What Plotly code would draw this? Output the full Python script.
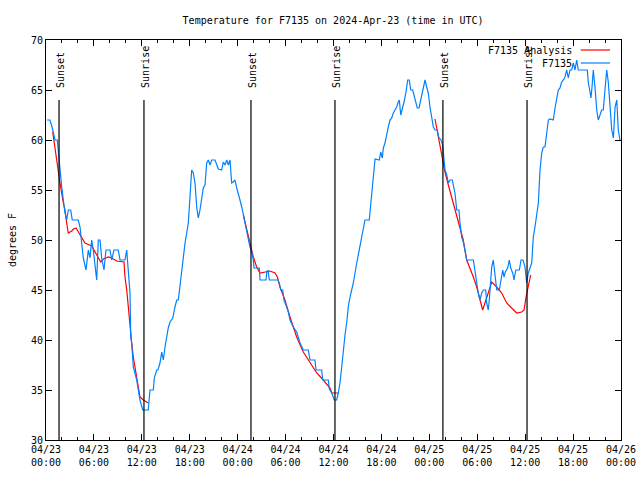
import pandas as pd
import plotly.graph_objects as go

BASE = pd.Timestamp("2024-04-23 00:00")

# Observed F7135 temperature (hours since 2024-04-23 00:00 UTC, degrees F)
obs_hours = [0.13, 0.50, 0.79, 1.13, 1.41, 1.57, 1.75, 1.97, 2.17, 2.38, 2.59, 2.79, 3.09, 3.29, 4.04, 4.26, 4.47, 4.67,
             5.01, 5.30, 5.51, 5.72, 5.92, 6.14, 6.35, 6.55, 6.76, 6.97, 7.26, 7.51, 8.01, 8.23, 8.51, 9.05, 9.27, 9.89,
             10.11, 10.18, 10.31, 10.52, 10.61, 10.73, 10.93, 11.36, 11.56, 11.77, 12.11, 12.81, 13.02, 13.44, 13.56,
             13.86, 14.02, 14.27, 14.49, 14.69, 14.90, 15.11, 15.31, 15.53, 15.87, 16.15, 16.37, 16.57, 16.78, 16.99,
             17.19, 17.41, 17.62, 17.82, 18.03, 18.24, 18.44, 18.66, 18.87, 19.07, 19.28, 19.50, 19.70, 19.91, 20.12,
             20.32, 20.54, 20.75, 21.16, 21.58, 22.00, 22.20, 22.41, 22.63, 22.83, 23.04, 23.25, 23.45, 23.67, 23.88,
             24.08, 24.29, 24.51, 24.71, 24.92, 25.13, 25.33, 25.54, 25.76, 25.96, 26.05, 26.71, 26.80, 27.55, 27.64,
             27.80, 27.96, 29.05, 29.21, 29.39, 29.64, 29.80, 30.14, 30.34, 30.55, 30.97, 31.39, 31.59, 31.81, 32.22,
             32.85, 33.06, 33.68, 33.81, 34.52, 34.65, 35.35, 35.48, 35.78, 36.10, 36.40, 36.60, 36.81, 37.03, 37.23,
             37.44, 37.65, 37.85, 38.07, 38.48, 38.91, 39.23, 39.53, 39.73, 39.94, 40.48, 40.66, 40.78, 40.91, 41.07,
             41.20, 41.74, 41.91, 42.11, 42.24, 42.45, 42.66, 42.86, 43.08, 43.29, 43.49, 43.70, 43.91, 44.11, 44.24,
             44.42, 44.67, 44.83, 45.08, 45.29, 45.49, 45.67, 45.92, 46.08, 46.29, 46.49, 46.71, 46.83, 47.05, 47.25,
             47.46, 47.67, 47.87, 48.08, 48.30, 48.50, 48.71, 49.00, 49.17, 49.46, 49.67, 49.75, 49.96, 50.18, 50.38,
             50.59, 50.88, 51.00, 51.21, 51.43, 51.71, 51.84, 52.05, 52.25, 52.47, 52.68, 53.51, 53.72, 53.93, 54.13,
             54.34, 54.56, 54.76, 55.06, 55.18, 55.38, 55.51, 55.68, 55.81, 56.01, 56.22, 56.44, 56.76, 56.94, 57.19,
             57.35, 57.51, 57.81, 58.01, 58.19, 58.44, 58.60, 58.82, 59.27, 59.48, 59.73, 59.98, 60.19, 60.39, 60.82,
             61.02, 61.23, 61.44, 61.65, 61.86, 62.07, 62.27, 62.48, 62.70, 62.90, 63.11, 63.52, 63.74, 63.95, 64.15,
             64.36, 64.57, 64.78, 64.99, 65.20, 65.40, 65.61, 65.83, 66.03, 66.24, 66.45, 66.65, 67.78, 67.90, 68.12,
             68.24, 68.37, 68.53, 68.74, 68.96, 69.16, 69.37, 69.58, 69.78, 69.99, 70.21, 70.41, 70.62, 70.84, 71.05,
             71.26, 71.47, 71.66, 71.87]
obs_temp = [62, 62, 61.2, 60, 60, 58.5, 56.7, 55.3, 54, 52.7, 52, 53, 53, 52, 52, 51.3, 49.7, 48.2,
            47, 49, 48.2, 50, 49, 47.3, 46, 50, 50, 48.2, 47, 49, 49, 48, 49, 49, 48, 48,
            49, 48.2, 46.7, 44.7, 40.3, 39.7, 37.3, 36, 35, 34, 33, 33, 35, 35, 36.2,
            37, 37, 37.7, 38.8, 38, 39.3, 40.3, 41.2, 41.8, 42.2, 43.3, 44, 44, 45.5, 46.7,
            48.3, 49.7, 50.7, 51.7, 54.3, 57, 56.7, 55.7, 53.3, 52.2, 53, 54.3, 55.2, 55.5, 57.7,
            58, 57.5, 58, 58, 57.1, 57, 57.8, 57.5, 58, 57.5, 58, 55.7, 55.8, 56, 55.2,
            54.7, 54, 53.3, 52.5, 51.8, 51, 50.2, 49.3, 48.8, 48, 47.2, 47.2, 46, 46, 46.8,
            47, 46, 46, 45.7, 45, 45, 44, 43.3, 42.8, 42, 41.3, 40.8, 40.2, 39.7, 39,
            39, 38, 38, 37, 37, 36, 36, 35.1, 34.7, 34, 34, 34.7, 35.7, 37.3, 39,
            40.5, 41.7, 43.3, 44.3, 45.7, 47.7, 49, 50.3, 51.3, 52, 52, 53.7, 54.7, 55.7, 57.7,
            58.1, 58, 58.8, 58.2, 59.2, 59.7, 60.7, 61.3, 62, 62.2, 62.7, 63, 63.3, 63.8, 64,
            62.5, 63.2, 63.8, 64.8, 66, 66, 65, 65, 64.5, 64, 63.2, 63.2, 63.7, 64.5, 65.2,
            66, 65.3, 64.7, 63.3, 62, 61.3, 61, 61, 60.3, 60, 59.5, 58.7, 57, 56.5, 55.7,
            56, 56, 55.5, 54.7, 53, 53, 51.7, 50.3, 49.8, 48.7, 48, 48, 46.7, 45.7, 44.7,
            44, 44.7, 45, 45, 43.7, 43, 44, 45.7, 47.3, 48, 46.7, 45, 45, 45.8, 47,
            46.3, 46.8, 47.2, 48, 47.2, 46.7, 46, 47, 47, 48, 48, 47.3, 45.7, 46.7, 47.7,
            50.3, 51.3, 52.3, 53.7, 57, 58.7, 59.3, 59.3, 60.7, 62, 62.1, 62, 63.2, 64, 65,
            65.2, 65.8, 66, 66.3, 67, 66.2, 67, 67, 67.7, 67, 68, 67, 67, 65.8, 64.8,
            64.2, 65.3, 67, 65.3, 63, 62, 62.5, 63, 63, 64.8, 67, 65.8, 63, 61, 60.2,
            63.3, 64, 61, 60]

# Analysis series (three night-time segments, None = gap)
ana_hours = [0.84, 1.06, 1.34, 1.75, 2.17, 2.38, 2.59, 2.79, 3.22, 3.44, 3.76, 4.04, 4.47, 4.88, 5.72, 6.14,
             6.55, 6.85, 7.18, 7.80, 8.23, 8.85, 9.77, 9.89, 10.11, 10.31, 10.52, 10.73, 10.93, 11.36, 11.77,
             12.18, 12.81, None,
             24.71, 25.13, 25.54, 25.96, 26.38, 26.80, 27.64, 28.05, 28.68, 28.97, 29.30, 29.92, 30.55, 31.39,
             32.22, 33.06, 33.90, 34.72, 35.56, 35.78, 36.60, None,
             48.71, 49.13, 49.55, 49.96, 50.38, 50.80, 51.21, 51.84, 52.25, 52.68, 53.09, 53.51, 53.93, 54.34,
             54.68, 54.97, 55.18, 55.60, 55.81, 56.44, 57.06, 57.69, 58.32, 58.94, 59.57, 59.86, 60.11, 60.39,
             60.69]
ana_temp = [60.8, 59.5, 57.7, 55.7, 53.7, 53, 51.7, 50.7, 50.9, 51.1, 51.2, 50.8, 50.2, 49.7, 49.4, 48.8,
            48.2, 47.8, 48.1, 48.3, 48.2, 47.9, 47.8, 46.3, 45, 43, 41.7, 39.7, 38.3, 36.3, 34.3,
            34, 33.7, None,
            52.5, 51.2, 49.7, 48.3, 47.3, 46.7, 46.8, 46.9, 46.7, 46.3, 45.3, 44, 42.3, 40.3,
            38.8, 37.7, 36.7, 36, 35.2, 34.7, 34.7, None,
            62.1, 60.3, 58.3, 56.8, 55.5, 54.3, 53, 51.3, 50, 48, 47.2, 46.3, 45.3, 44,
            43, 43.7, 44.2, 45.3, 45.8, 45.3, 44.7, 43.7, 43.2, 42.7, 42.8, 43, 44.3, 45.5,
            46.5]

sun_events = ["2024-04-23 01:38", "2024-04-23 12:16", "2024-04-24 01:40",
              "2024-04-24 12:11", "2024-04-25 01:42", "2024-04-25 12:14"]
sun_labels = ["Sunset", "Sunrise", "Sunset", "Sunrise", "Sunset", "Sunrise"]


def to_time(hours):
    return [None if h is None else BASE + pd.Timedelta(hours=h) for h in hours]


FONT = "DejaVu Sans Mono"
RED = "#ff0000"
BLUE = "#0080ff"

fig = go.Figure()
fig.add_trace(go.Scatter(x=to_time(ana_hours), y=ana_temp, mode="lines",
                         line=dict(color=RED, width=1.2), connectgaps=False, name="F7135 Analysis"))
fig.add_trace(go.Scatter(x=to_time(obs_hours), y=obs_temp, mode="lines",
                         line=dict(color=BLUE, width=1.2), name="F7135"))

for t, lab in zip(sun_events, sun_labels):
    fig.add_shape(type="line", x0=t, x1=t, y0=30, y1=64, xref="x", yref="y",
                  line=dict(color="black", width=1.2))
    fig.add_annotation(x=t, y=65, xref="x", yref="y", text=lab, textangle=-90,
                       showarrow=False, xanchor="center", yanchor="bottom", xshift=1,
                       font=dict(family=FONT, size=10, color="black"))

# Legend (gnuplot-style: text then line sample, top right)
legend_items = [("F7135 Analysis", RED, 0.975), ("F7135", BLUE, 0.9425)]
for text, col, yy in legend_items:
    fig.add_annotation(x=0.918, y=yy, xref="paper", yref="paper", text=text, showarrow=False,
                       xanchor="right", yanchor="middle", font=dict(family=FONT, size=10, color="black"))
    fig.add_shape(type="line", x0=0.930, x1=0.981, y0=yy, y1=yy, xref="paper", yref="paper",
                  line=dict(color=col, width=1.2))

fig.update_layout(
    width=640, height=480,
    margin=dict(l=46, r=19, t=40, b=40, autoexpand=False),
    paper_bgcolor="white", plot_bgcolor="white",
    showlegend=False,
    font=dict(family=FONT, size=10, color="black"),
    title=dict(text="Temperature for F7135 on 2024-Apr-23 (time in UTC)", x=0.5205, xanchor="center",
               y=1 - 20 / 480, yanchor="middle", font=dict(family=FONT, size=10, color="black")),
)
fig.update_xaxes(
    type="date", range=["2024-04-23 00:00", "2024-04-26 00:00"],
    tickmode="linear", tick0="2024-04-23 00:00", dtick=6 * 3600 * 1000,
    tickformat="%m/%d<br>%H:%M", ticks="inside", ticklen=6, tickcolor="black",
    minor=dict(ticks="inside", ticklen=3, dtick=2 * 3600 * 1000, tickcolor="black", showgrid=False),
    showline=True, linecolor="black", linewidth=1, mirror="allticks",
    showgrid=False, zeroline=False, tickfont=dict(family=FONT, size=10, color="black"),
)
fig.update_yaxes(
    range=[30, 70], tickmode="linear", tick0=30, dtick=5,
    ticks="inside", ticklen=6, tickcolor="black",
    showline=True, linecolor="black", linewidth=1, mirror="allticks",
    showgrid=False, zeroline=False, tickfont=dict(family=FONT, size=10, color="black"),
    title=dict(text="degrees F", font=dict(family=FONT, size=10, color="black"), standoff=12),
)

fig.write_html("out.html", config={"displayModeBar": False},
               post_script="document.body.style.margin='0';")
